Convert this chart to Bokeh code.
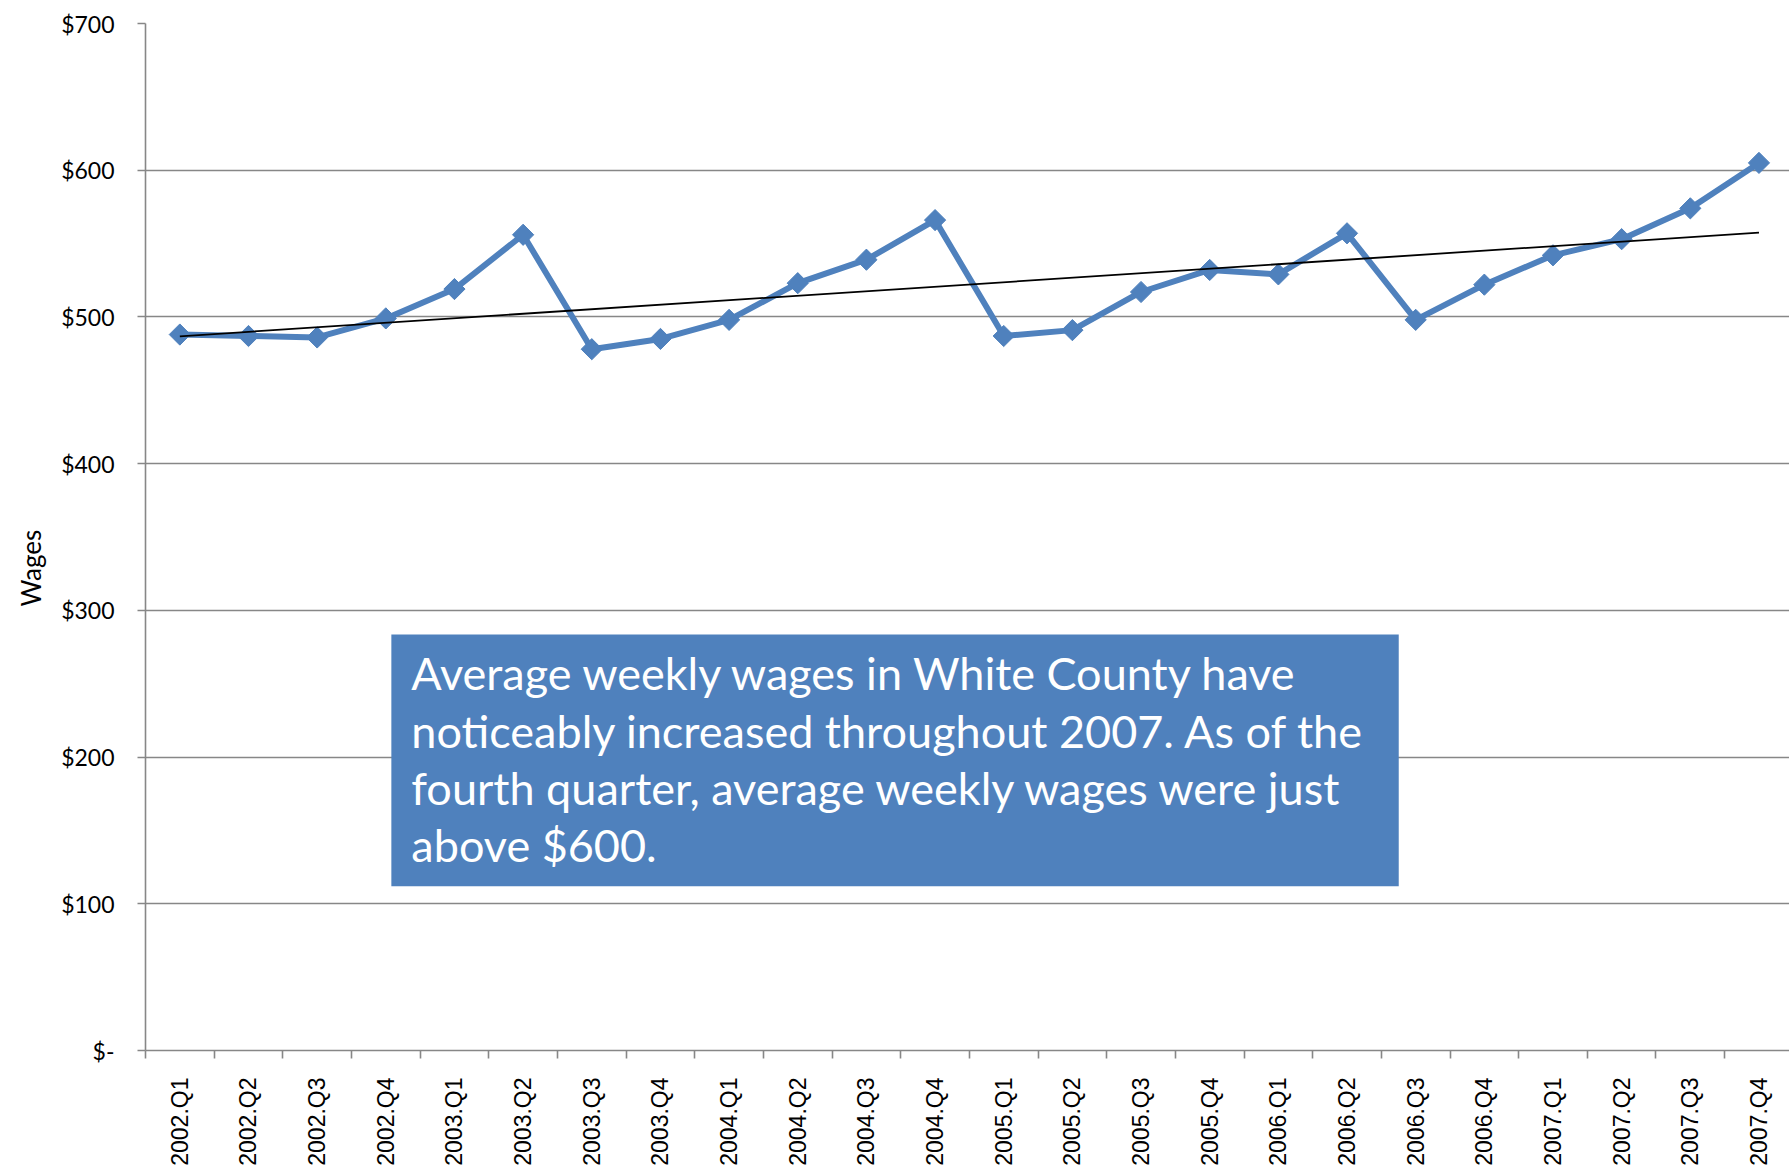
import numpy as np
from bokeh.plotting import figure
from bokeh.models import Range1d, FixedTicker, BoxAnnotation, Label, Title
from bokeh.embed import file_html
from bokeh.resources import INLINE

# ---- data ----
QUARTERS = ["2002.Q1", "2002.Q2", "2002.Q3", "2002.Q4",
            "2003.Q1", "2003.Q2", "2003.Q3", "2003.Q4",
            "2004.Q1", "2004.Q2", "2004.Q3", "2004.Q4",
            "2005.Q1", "2005.Q2", "2005.Q3", "2005.Q4",
            "2006.Q1", "2006.Q2", "2006.Q3", "2006.Q4",
            "2007.Q1", "2007.Q2", "2007.Q3", "2007.Q4"]
WAGES = [488, 487, 486, 499,
         519, 556, 478, 485,
         498, 523, 539, 566,
         487, 491, 517, 532,
         529, 557, 498, 522,
         542, 553, 574, 605]
Y_TICKS = [0, 100, 200, 300, 400, 500, 600, 700]
Y_TICK_LABELS = ["$-", "$100", "$200", "$300", "$400", "$500", "$600", "$700"]
Y_TITLE = "Wages"
NOTE_LINES = ["Average weekly wages in White County have",
              "noticeably increased throughout 2007.  As of the",
              "fourth quarter, average weekly wages were just",
              "above $600."]

# ---- layout ----
W, H = 1789, 1169
ML, MT, MB, MR = 144, 23, 119, 0
CAT_PX = 68.7
FW = W - ML - MR
FH = H - MT - MB
X_END = FW / CAT_PX
Y_MAX = 700


def dx(px):
    return (px - ML) / FW * X_END


def dy(py):
    return (H - MB - py) / FH * Y_MAX


BLUE = "#4F81BD"
GRAY = "#878787"

xs = np.arange(len(QUARTERS)) + 0.5

p = figure(width=W, height=H, x_range=Range1d(0, X_END), y_range=Range1d(0, Y_MAX),
           output_backend="svg", toolbar_location=None,
           min_border_left=ML, min_border_top=MT, min_border_bottom=MB, min_border_right=MR)
p.outline_line_color = None
p.background_fill_color = "white"
p.border_fill_color = "white"

# grid
p.xgrid.grid_line_color = None
p.ygrid.ticker = FixedTicker(ticks=Y_TICKS)
p.ygrid.grid_line_color = GRAY
p.ygrid.grid_line_width = 1.6

# y axis
ya = p.yaxis[0]
ya.ticker = FixedTicker(ticks=Y_TICKS)
ya.major_label_overrides = {t: l for t, l in zip(Y_TICKS, Y_TICK_LABELS)}
ya.axis_line_color = GRAY
ya.axis_line_width = 1.6
ya.major_tick_line_color = GRAY
ya.major_tick_line_width = 1.6
ya.major_tick_out = 8
ya.major_tick_in = 0
ya.minor_tick_line_color = None
ya.major_label_standoff = 23
ya.major_label_text_font = "Lato"
ya.major_label_text_font_size = "23px"
ya.major_label_text_color = "black"

# y-axis title in the left panel, placed a little below the frame centre like the original
p.add_layout(Title(text=Y_TITLE, align="left", offset=FH + MT - 606, standoff=24,
                   text_font="Lato", text_font_size="26px", text_font_style="normal",
                   text_color="black"), "left")

# x axis
xa = p.xaxis[0]
xa.ticker = FixedTicker(ticks=list(xs), minor_ticks=list(range(len(QUARTERS) + 1)))
xa.major_label_overrides = {float(x): q for x, q in zip(xs, QUARTERS)}
xa.major_label_orientation = np.pi / 2
xa.axis_line_color = GRAY
xa.axis_line_width = 1.6
xa.major_tick_line_color = None
xa.major_tick_out = 0
xa.major_tick_in = 0
xa.minor_tick_line_color = GRAY
xa.minor_tick_line_width = 1.6
xa.minor_tick_out = 8
xa.minor_tick_in = 0
xa.major_label_standoff = 19
xa.major_label_text_font = "Liberation Sans"
xa.major_label_text_font_size = "23px"
xa.major_label_text_color = "black"

# data line
p.line(xs, WAGES, line_color=BLUE, line_width=6, line_join="round")
p.scatter(xs, WAGES, marker="square", size=15, angle=np.pi / 4,
          fill_color=BLUE, line_color=BLUE)

# linear trend line
coef = np.polyfit(xs, WAGES, 1)
tx = np.array([xs[0], xs[-1]])
p.line(tx, np.polyval(coef, tx), line_color="black", line_width=1.8)

# note box
box = BoxAnnotation(left=dx(390), right=dx(1398), top=dy(634), bottom=dy(885.7),
                    fill_color=BLUE, fill_alpha=1.0, line_color=None)
p.add_layout(box)
baselines = [672.5, 730.0, 787.5, 844.5]
for line, by in zip(NOTE_LINES, baselines):
    p.add_layout(Label(x=dx(410), y=dy(by), text=line, text_font="Lato",
                       text_font_size="45px", text_color="white",
                       text_baseline="alphabetic", text_align="left"))

open("out.html", "w").write(file_html(p, INLINE))
